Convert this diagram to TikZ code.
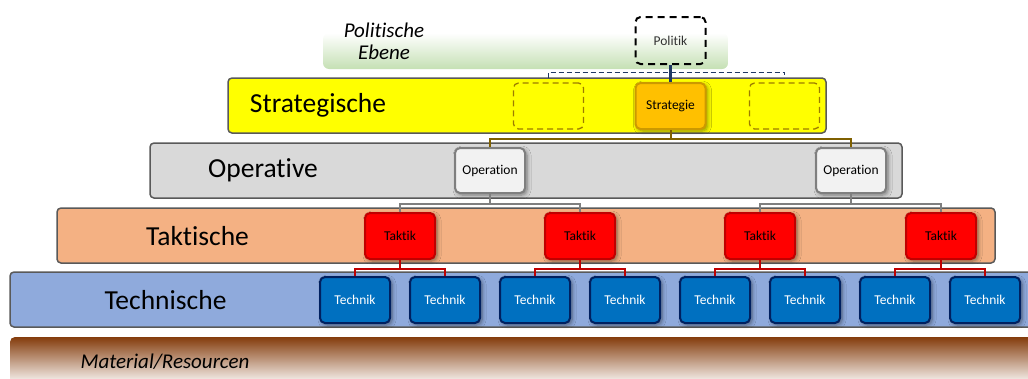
\documentclass[tikz,border=0pt]{standalone}
\usepackage{fontspec}
\setmainfont{Carlito}[Ligatures=NoCommon]
\usetikzlibrary{shadows.blur}

\definecolor{bandline}{RGB}{89,89,89}
\definecolor{greenband}{RGB}{197,224,180}
\definecolor{yellowband}{RGB}{255,255,0}
\definecolor{greyband}{RGB}{217,217,217}
\definecolor{peachband}{RGB}{244,177,131}
\definecolor{blueband}{RGB}{143,170,220}
\definecolor{brownband}{RGB}{132,60,12}
\definecolor{navy}{RGB}{31,56,100}
\definecolor{olive}{RGB}{127,96,0}
\definecolor{dashedolive}{RGB}{156,124,0}
\definecolor{strategiefill}{RGB}{255,192,0}
\definecolor{strategieline}{RGB}{204,153,0}
\definecolor{opfill}{RGB}{242,242,242}
\definecolor{opline}{RGB}{127,127,127}
\definecolor{taktikline}{RGB}{192,0,0}
\definecolor{technikfill}{RGB}{0,112,192}
\definecolor{technikline}{RGB}{0,32,96}

\begin{document}
\begin{tikzpicture}[x=1pt,y=-1pt,
  band/.style={draw=bandline, line width=1.5pt, rounded corners=4pt, inner sep=0pt},
  bandlabel/.style={font=\fontsize{27.5}{30}\selectfont, inner sep=0pt},
  unitbox/.style={rounded corners=5pt, line width=2pt, minimum width=70pt,
    minimum height=46pt, inner sep=0pt, font=\fontsize{13.5}{15}\selectfont},
  shade/.style={blur shadow={shadow xshift=2pt, shadow yshift=-2pt,
    shadow blur steps=6, shadow blur radius=4pt, shadow opacity=45}},
  emptybox/.style={unitbox, dash pattern=on 6pt off 4pt, line width=1.3pt, draw=dashedolive},
  opbox/.style={unitbox, shade, fill=opfill, draw=opline},
  taktikbox/.style={unitbox, shade, fill=red, draw=taktikline},
  technikbox/.style={unitbox, shade, fill=technikfill, draw=technikline, text=white},
  link/.style={line width=2pt}
]
\clip (0,0) rectangle (1028,378);

% layer bands
\node[inner sep=0pt, rounded corners=6pt, top color=white, bottom color=greenband,
  minimum width=405pt, minimum height=36pt] (polband) at (525.5,51) {};
\node[band, fill=yellowband, minimum width=598pt, minimum height=55pt] (stratband) at (527,105.5) {};
\node[band, fill=greyband, minimum width=752pt, minimum height=55pt] (opband) at (526,170.5) {};
\node[band, fill=peachband, minimum width=938pt, minimum height=55pt] (taktband) at (526,235.5) {};
\node[band, fill=blueband, minimum width=1030pt, minimum height=55pt] (techband) at (525,299.5) {};
\node[inner sep=0pt, rounded corners=5pt, top color=brownband, bottom color=white,
  minimum width=1030pt, minimum height=48pt] (matband) at (525,361) {};

% layer names
\node[align=center, font=\itshape\fontsize{21}{22}\selectfont, inner sep=0pt] (pollabel) at (384,41) {Politische\\Ebene};
\node[bandlabel] (stratlabel) at (318,105) {Strategische};
\node[bandlabel] (oplabel) at (263,170) {Operative};
\node[bandlabel] (taktlabel) at (197.5,236) {Taktische};
\node[bandlabel] (techlabel) at (165.5,300) {Technische};
\node[font=\itshape\fontsize{21}{22}\selectfont, inner sep=0pt] (matlabel) at (165,362) {Material/Resourcen};

% political and strategic units
\node[unitbox, dash pattern=on 7pt off 5pt, line width=2pt, draw=black, minimum height=47pt, text=black!80] (politik) at (670.5,40.5) {Politik};
\node[emptybox] (dl) at (548.5,106) {};
\node[emptybox] (dr) at (784.5,106) {};
\node[unitbox, shade, fill=strategiefill, draw=strategieline] (strategie) at (670.5,106) {Strategie};

% operational units
\node[opbox, minimum height=45pt] (op1) at (490,170.5) {Operation};
\node[opbox, minimum height=45pt] (op2) at (851,170.5) {Operation};

% tactical units
\foreach \i/\x in {1/400,2/580,3/760,4/941}
  \node[taktikbox] (tk\i) at (\x,236) {Taktik};

% technical units
\foreach \i/\x in {1/355,2/445,3/535,4/625,5/715,6/805,7/895,8/985}
  \node[technikbox] (te\i) at (\x,300) {Technik};

% connectors
\draw[navy, line width=2.5pt] (politik.south) -- (strategie.north);
\draw[navy, line width=1.3pt, dash pattern=on 5pt off 3pt] ([yshift=4pt]dl.north) -- ++(0,-6) -| ([yshift=4pt]dr.north);
\draw[link, olive] (strategie.south) -- ++(0,9) -| (op1.north);
\draw[link, olive] (strategie.south) -- ++(0,9) -| (op2.north);
\draw[link, opline] (op1.south) -- ++(0,10) -| (tk1.north);
\draw[link, opline] (op1.south) -- ++(0,10) -| (tk2.north);
\draw[link, opline] (op2.south) -- ++(0,10) -| (tk3.north);
\draw[link, opline] (op2.south) -- ++(0,10) -| (tk4.north);
\foreach \t/\a/\b in {1/1/2,2/3/4,3/5/6,4/7/8}{
  \draw[link, taktikline] (tk\t.south) -- ++(0,9) -| (te\a.north);
  \draw[link, taktikline] (tk\t.south) -- ++(0,9) -| (te\b.north);
}
\end{tikzpicture}
\end{document}
